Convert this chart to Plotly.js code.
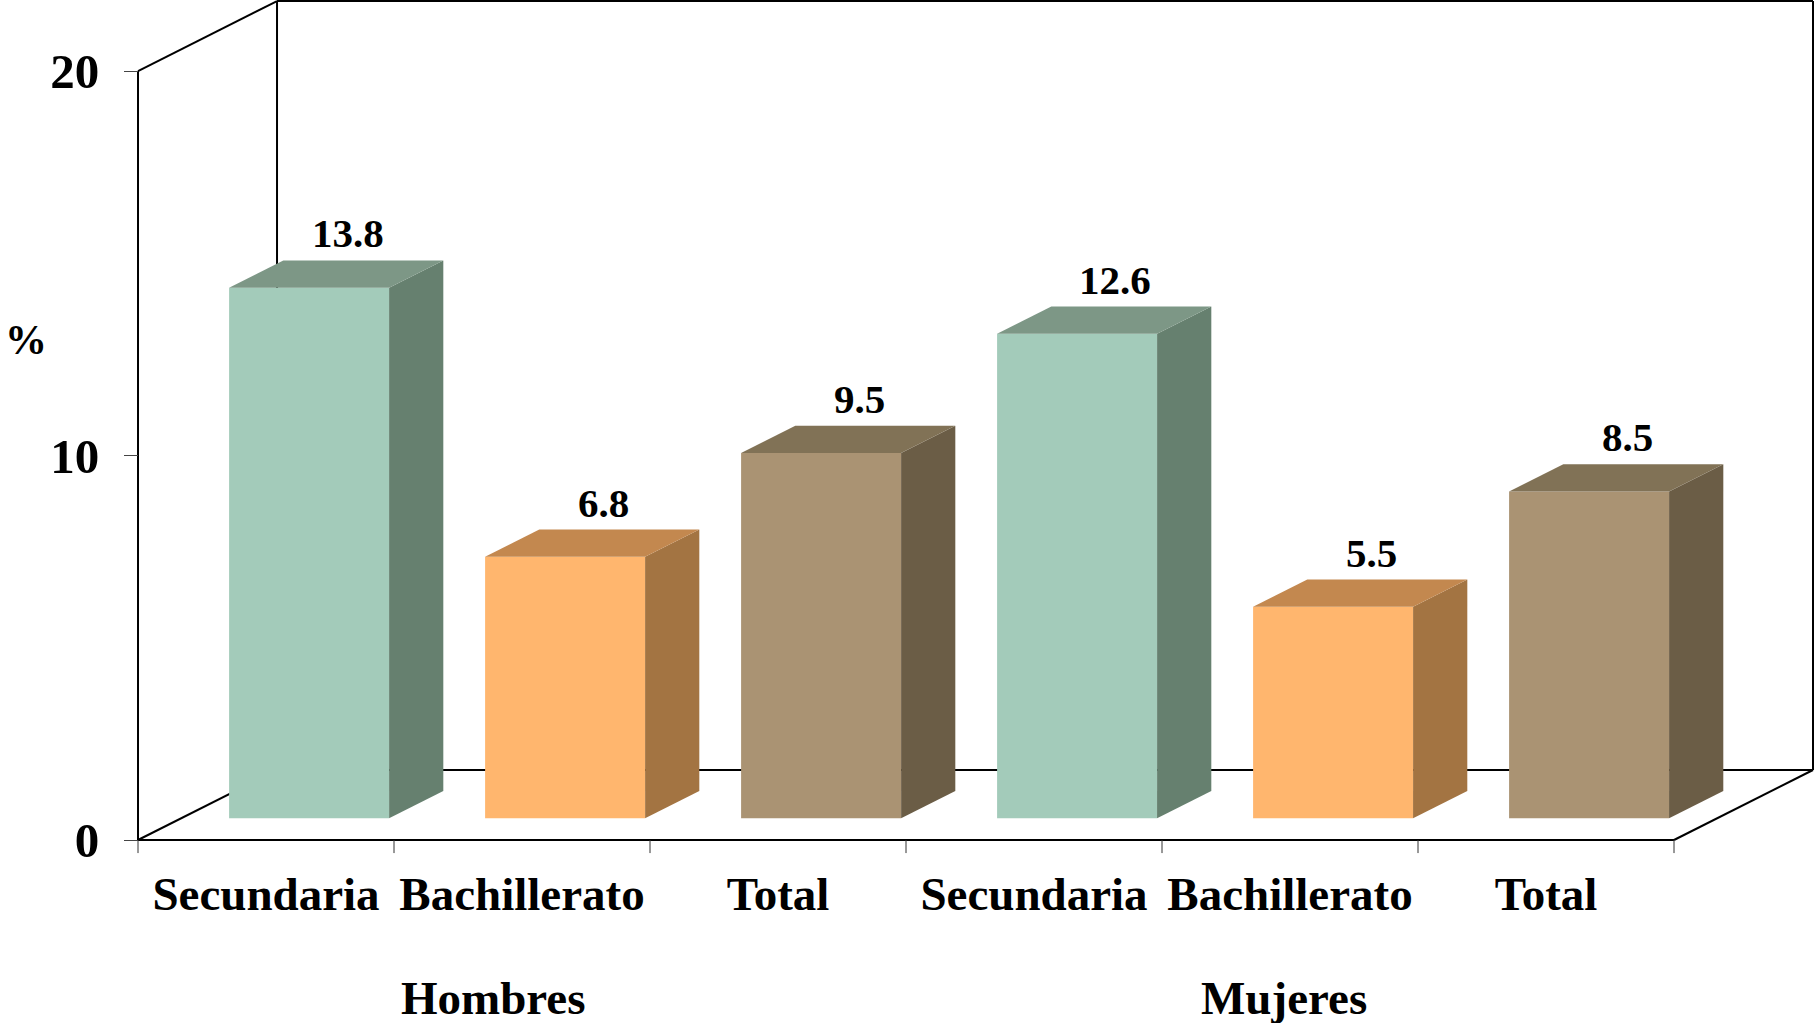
<!DOCTYPE html>
<html>
<head>
<meta charset="utf-8">
<script src="https://cdn.plot.ly/plotly-3.0.1.min.js"></script>
<style>
  html, body { margin: 0; padding: 0; background: #ffffff; }
  #chart { width: 1815px; height: 1023px; }
</style>
</head>
<body>
<div id="chart"></div>
<script>
// ---- data ----
const categories = ['Secundaria', 'Bachillerato', 'Total', 'Secundaria', 'Bachillerato', 'Total'];
const groups = ['Hombres', 'Mujeres'];
const values = [13.8, 6.8, 9.5, 12.6, 5.5, 8.5];
const yTickVals = [0, 10, 20];
const yTickText = ['0', '10', '20'];

// ---- styles ----
const frontColors = ['#A3CBBA', '#FFB66E', '#AA9373', '#A3CBBA', '#FFB66E', '#AA9373'];
const sideColors  = ['#66806F', '#A37442', '#6B5D46', '#66806F', '#A37442', '#6B5D46'];
const topColors   = ['#7D9786', '#C3884F', '#817256', '#7D9786', '#C3884F', '#817256'];

const FONT = 'Liberation Serif, "Times New Roman", serif';

// 3D projection parameters (in axis units)
const DX = 0.543;      // depth offset along x (categories)
const DY = 1.8205;     // depth offset along y (%)
const F0 = 0.31;       // front face depth fraction
const F1 = 0.39;       // bar depth fraction
const BAR_W = 0.625;
const yMax = 20;
const nCat = categories.length;
const xs = categories.map((_, i) => i);

const b0 = F0 * DY;
const xShift = F0 * DX;

const traces = [];

// front faces (bars)
traces.push({
  type: 'bar',
  x: xs.map(i => i + xShift),
  y: values,
  base: values.map(() => b0),
  width: BAR_W,
  marker: { color: frontColors, line: { width: 0 } },
  hoverinfo: 'skip',
  showlegend: false
});

// side and top faces
values.forEach((v, i) => {
  const xl = i + xShift - BAR_W / 2;
  const xr = i + xShift + BAR_W / 2;
  const top = b0 + v;
  const ox = F1 * DX, oy = F1 * DY;
  traces.push({
    type: 'scatter', mode: 'lines', fill: 'toself',
    x: [xr, xr + ox, xr + ox, xr, xr],
    y: [b0, b0 + oy, top + oy, top, b0],
    fillcolor: sideColors[i], line: { width: 0, color: sideColors[i] },
    hoverinfo: 'skip', showlegend: false
  });
  traces.push({
    type: 'scatter', mode: 'lines', fill: 'toself',
    x: [xl, xr, xr + ox, xl + ox, xl],
    y: [top, top, top + oy, top + oy, top],
    fillcolor: topColors[i], line: { width: 0, color: topColors[i] },
    hoverinfo: 'skip', showlegend: false
  });
});

// frame shapes (drawn below traces)
const L = -0.5, R = nCat - 0.5;
const lineStyle = { color: '#000000', width: 2 };
const seg = (x0, y0, x1, y1, st) => ({
  type: 'line', xref: 'x', yref: 'y', x0, y0, x1, y1, layer: 'below', line: st || lineStyle
});
const shapes = [
  seg(L, 0, L, yMax),                       // front left vertical
  seg(L, yMax, L + DX, yMax + DY),          // top-left diagonal
  seg(L + DX, DY, L + DX, yMax + DY),       // back wall left
  seg(L + DX, yMax + DY, R + DX, yMax + DY),// back wall top
  seg(R + DX, DY, R + DX, yMax + DY),       // back wall right
  seg(L + DX, DY, R + DX, DY),              // back floor line
  seg(L, 0, L + DX, DY),                    // floor left diagonal
  seg(R, 0, R + DX, DY),                    // floor right diagonal
  seg(L, 0, R, 0)                           // front floor line
];
// category boundary ticks
for (let k = 0; k <= nCat; k++) {
  shapes.push(seg(k - 0.5, 0, k - 0.5, -0.34, { color: '#333333', width: 1 }));
}

// annotations
const annotations = [];
values.forEach((v, i) => {
  annotations.push({
    xref: 'x', yref: 'y',
    x: i + xShift + 0.15, y: b0 + v + F1 * DY,
    text: v.toFixed(1), showarrow: false,
    xanchor: 'center', yanchor: 'bottom', yshift: 2,
    font: { family: FONT, size: 41, color: '#000000', weight: 'bold' }
  });
});
const groupX = [0.887, 3.977];
groups.forEach((g, k) => {
  annotations.push({
    xref: 'x', yref: 'paper', x: groupX[k], y: -0.16,
    text: g, showarrow: false, xanchor: 'center', yanchor: 'middle',
    font: { family: FONT, size: 47, color: '#000000', weight: 'bold' }
  });
});
annotations.push({
  xref: 'paper', yref: 'paper', x: -0.0605, y: 0.6047,
  text: '%', showarrow: false, xanchor: 'center', yanchor: 'middle',
  font: { family: FONT, size: 42, color: '#000000', weight: 'bold' }
});

const layout = {
  width: 1815, height: 1023,
  margin: { l: 128, r: 0, t: 0, b: 163, pad: 0 },
  paper_bgcolor: '#ffffff', plot_bgcolor: '#ffffff',
  showlegend: false,
  barmode: 'overlay',
  xaxis: {
    range: [-0.5391, 6.0508],
    tickmode: 'array', tickvals: xs, ticktext: categories,
    ticks: '', showgrid: false, zeroline: false, showline: false,
    ticklabelstandoff: 2,
    tickfont: { family: FONT, size: 47, color: '#000000', weight: 'bold' },
    fixedrange: true
  },
  yaxis: {
    range: [-0.5202, 21.847],
    anchor: 'free', position: 0.005928,
    tickmode: 'array', tickvals: yTickVals, ticktext: yTickText,
    ticks: 'outside', ticklen: 14, tickwidth: 1, tickcolor: '#444444',
    ticklabelstandoff: 15,
    showgrid: false, zeroline: false, showline: false,
    tickfont: { family: FONT, size: 49, color: '#000000', weight: 'bold' },
    fixedrange: true
  },
  shapes: shapes,
  annotations: annotations
};

Plotly.newPlot('chart', traces, layout, { displayModeBar: false, staticPlot: true });
</script>
</body>
</html>
